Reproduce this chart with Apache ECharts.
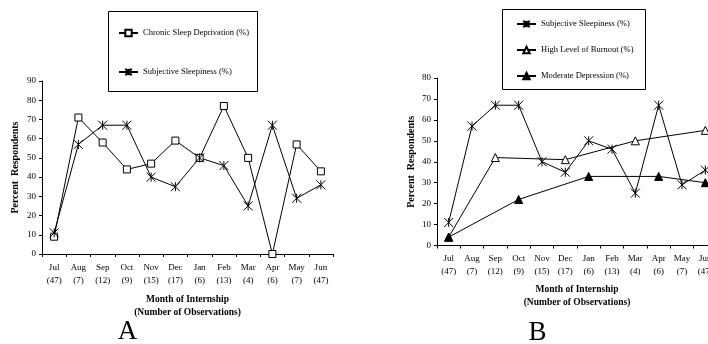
<!DOCTYPE html>
<html>
<head>
<meta charset="utf-8">
<script src="https://cdn.jsdelivr.net/npm/echarts@6/dist/echarts.min.js"></script>
<style>
  html, body { margin: 0; padding: 0; background: #fff; overflow: hidden; }
  /* canvas runs a little past the right edge so panel B's last column is cut off */
  #chart { width: 720px; height: 344px; }
</style>
</head>
<body>
<div id="chart"></div>
<script>
// Month of internship and number of observations per month
const months = ['Jul', 'Aug', 'Sep', 'Oct', 'Nov', 'Dec', 'Jan', 'Feb', 'Mar', 'Apr', 'May', 'Jun'];
const observations = [47, 7, 12, 9, 15, 17, 6, 13, 4, 6, 7, 47];

// Panel A
const chronicSleepDeprivation = [9, 71, 58, 44, 47, 59, 50, 77, 50, 0, 57, 43];
const subjectiveSleepinessA = [11, 57, 67, 67, 40, 35, 50, 46, 25, 67, 29, 36];

// Panel B (burnout and depression measured only in some months)
const subjectiveSleepinessB = [11, 57, 67, 67, 40, 35, 50, 46, 25, 67, 29, 36];
const highBurnout = [4, null, 42, null, null, 41, null, null, 50, null, null, 55];
const moderateDepression = [4, null, null, 22, null, null, 33, null, null, 33, null, 30];

const yTicksA = { min: 0, max: 90, interval: 10 };
const yTicksB = { min: 0, max: 80, interval: 10 };

const FONT = "'Liberation Serif', 'Times New Roman', serif";
const INK = '#000';

const starPath = 'path://M0,0L10,10M10,0L0,10M5,0L5,10';

function xAxisFor(gridIndex, nameGap) {
  return {
    type: 'category',
    gridIndex: gridIndex,
    data: months,
    boundaryGap: true,
    axisLine: { lineStyle: { color: INK, width: 1 } },
    axisTick: { show: true, length: 3, alignWithLabel: false, lineStyle: { color: INK } },
    axisLabel: {
      color: INK, fontFamily: FONT, fontSize: 9, lineHeight: 13, margin: 7, interval: 0,
      formatter: (v, i) => v + '\n(' + observations[i] + ')'
    },
    name: 'Month of Internship\n(Number of Observations)',
    nameLocation: 'middle',
    nameGap: nameGap,
    nameTextStyle: { color: INK, fontFamily: FONT, fontSize: 9.5, fontWeight: 'bold', lineHeight: 13 },
    splitLine: { show: false }
  };
}

function yAxisFor(gridIndex, ticks, nameGap) {
  return {
    type: 'value',
    gridIndex: gridIndex,
    min: ticks.min, max: ticks.max, interval: ticks.interval,
    axisLine: { show: true, lineStyle: { color: INK, width: 1 } },
    axisTick: { show: true, length: 3, lineStyle: { color: INK } },
    axisLabel: { color: INK, fontFamily: FONT, fontSize: 9, margin: 6 },
    splitLine: { show: false },
    name: 'Percent  Respondents',
    nameLocation: 'middle',
    nameGap: nameGap,
    nameTextStyle: { color: INK, fontFamily: FONT, fontSize: 10, fontWeight: 'bold' }
  };
}

function lineSeries(name, data, symbol, fill, size, xi, yi) {
  return {
    type: 'line',
    name: name,
    data: data,
    xAxisIndex: xi,
    yAxisIndex: yi,
    connectNulls: true,
    symbol: symbol,
    symbolSize: size,
    showAllSymbol: true,
    animation: false,
    lineStyle: { color: INK, width: 1 },
    itemStyle: { color: fill, borderColor: INK, borderWidth: 1 },
    z: 3
  };
}

function legendItem(name, left, centerY) {
  return {
    data: [name],
    left: left,
    top: centerY - 5,
    orient: 'vertical',
    padding: 0,
    itemWidth: 19,
    itemHeight: 8,
    selectedMode: false,
    textStyle: { color: INK, fontFamily: FONT, fontSize: 8.5, lineHeight: 10 }
  };
}

const SLEEPINESS = 'Subjective Sleepiness (%)';

const option = {
  backgroundColor: '#fff',
  animation: false,
  textStyle: { fontFamily: FONT },
  grid: [
    { left: 42, width: 291, top: 81, bottom: 90, containLabel: false },
    { left: 437, width: 280, top: 78, bottom: 98.5, containLabel: false }
  ],
  xAxis: [xAxisFor(0, 39.5), xAxisFor(1, 38)],
  yAxis: [yAxisFor(0, yTicksA, 22), yAxisFor(1, yTicksB, 21)],
  legend: [
    legendItem('Chronic Sleep Deprivation (%)', 118, 33),
    legendItem(SLEEPINESS, 118, 72),
    legendItem(SLEEPINESS, 516, 24),
    legendItem('High Level of Burnout (%)', 516, 50),
    legendItem('Moderate Depression (%)', 516, 76)
  ],
  series: [
    lineSeries('Chronic Sleep Deprivation (%)', chronicSleepDeprivation, 'rect', '#fff', 7, 0, 0),
    lineSeries(SLEEPINESS, subjectiveSleepinessA, starPath, 'rgba(0,0,0,0)', 9, 0, 0),
    lineSeries(SLEEPINESS, subjectiveSleepinessB, starPath, 'rgba(0,0,0,0)', 9, 1, 1),
    lineSeries('High Level of Burnout (%)', highBurnout, 'triangle', '#fff', 8, 1, 1),
    lineSeries('Moderate Depression (%)', moderateDepression, 'triangle', INK, 8, 1, 1)
  ],
  graphic: [
    { type: 'rect', shape: { x: 108.5, y: 11.5, width: 149, height: 80 },
      style: { fill: 'none', stroke: INK, lineWidth: 1 }, silent: true },
    { type: 'rect', shape: { x: 502.5, y: 9.5, width: 143, height: 80 },
      style: { fill: 'none', stroke: INK, lineWidth: 1 }, silent: true },
    { type: 'text', x: 127.5, y: 332, style: { text: 'A', fill: INK, font: "27px 'Liberation Serif', serif", align: 'center', verticalAlign: 'middle' } },
    { type: 'text', x: 537.5, y: 333, style: { text: 'B', fill: INK, font: "27px 'Liberation Serif', serif", align: 'center', verticalAlign: 'middle' } }
  ]
};

const chart = echarts.init(document.getElementById('chart'), null, { renderer: 'canvas' });
chart.setOption(option);
</script>
</body>
</html>
